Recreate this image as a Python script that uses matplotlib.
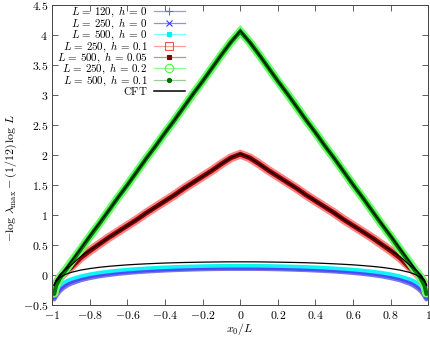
import matplotlib
matplotlib.use("Agg")
import matplotlib.pyplot as plt
from matplotlib.lines import Line2D
from matplotlib import ticker

plt.rcParams['mathtext.fontset'] = 'cm'
plt.rcParams['font.family'] = ['cmr10', 'DejaVu Serif']
plt.rcParams['axes.unicode_minus'] = True

# x0/L grid of read-off points
x = [-0.99, -0.98, -0.96, -0.94, -0.92, -0.90, -0.85, -0.80, -0.75, -0.70, -0.65, -0.60,
     -0.55, -0.50, -0.45, -0.40, -0.35, -0.30, -0.25, -0.20, -0.15, -0.10, -0.05, 0.00,
     0.05, 0.10, 0.15, 0.20, 0.25, 0.30, 0.35, 0.40, 0.45, 0.50, 0.55, 0.60, 0.65, 0.70,
     0.75, 0.80, 0.85, 0.90, 0.92, 0.94, 0.96, 0.98, 0.99]

# h = 0 data
y_L120_h0 = [-0.410, -0.355, -0.272, -0.218, -0.177, -0.146, -0.091, -0.053, -0.024, -0.002, 0.017, 0.032,
             0.045, 0.056, 0.065, 0.073, 0.080, 0.085, 0.090, 0.094, 0.097, 0.099, 0.100, 0.100,
             0.100, 0.099, 0.097, 0.094, 0.090, 0.085, 0.080, 0.073, 0.065, 0.056, 0.045, 0.032, 0.017, -0.002,
             -0.024, -0.053, -0.091, -0.146, -0.177, -0.218, -0.272, -0.355, -0.410]
y_L250_h0 = [-0.380, -0.312, -0.232, -0.180, -0.141, -0.112, -0.060, -0.024, 0.003, 0.024, 0.041, 0.056,
             0.068, 0.078, 0.087, 0.095, 0.101, 0.106, 0.110, 0.114, 0.117, 0.119, 0.120, 0.120,
             0.120, 0.119, 0.117, 0.114, 0.110, 0.106, 0.101, 0.095, 0.087, 0.078, 0.068, 0.056, 0.041, 0.024,
             0.003, -0.024, -0.060, -0.112, -0.141, -0.180, -0.232, -0.312, -0.380]
y_L500_h0 = [-0.348, -0.265, -0.182, -0.134, -0.099, -0.073, -0.025, 0.009, 0.035, 0.055, 0.072, 0.086,
             0.098, 0.108, 0.117, 0.125, 0.131, 0.136, 0.140, 0.144, 0.147, 0.149, 0.150, 0.150,
             0.150, 0.149, 0.147, 0.144, 0.140, 0.136, 0.131, 0.125, 0.117, 0.108, 0.098, 0.086, 0.072, 0.055,
             0.035, 0.009, -0.025, -0.073, -0.099, -0.134, -0.182, -0.265, -0.348]
# hL = 25
y_L250_h01 = [-0.30, -0.16, -0.05, 0.02, 0.08, 0.13, 0.28, 0.40, 0.51, 0.62, 0.72, 0.82,
              0.92, 1.03, 1.13, 1.23, 1.33, 1.44, 1.54, 1.64, 1.74, 1.85, 1.95, 2.01,
              1.95, 1.85, 1.74, 1.64, 1.54, 1.44, 1.33, 1.23, 1.13, 1.03, 0.92, 0.82, 0.72, 0.62,
              0.51, 0.40, 0.28, 0.13, 0.08, 0.02, -0.05, -0.16, -0.30]
y_L500_h005 = [-0.31, -0.17, -0.06, 0.01, 0.07, 0.12, 0.28, 0.40, 0.51, 0.62, 0.72, 0.82,
               0.92, 1.03, 1.13, 1.23, 1.33, 1.44, 1.54, 1.64, 1.74, 1.85, 1.95, 2.01,
               1.95, 1.85, 1.74, 1.64, 1.54, 1.44, 1.33, 1.23, 1.13, 1.03, 0.92, 0.82, 0.72, 0.62,
               0.51, 0.40, 0.28, 0.12, 0.07, 0.01, -0.06, -0.17, -0.31]
# hL = 50
y_L250_h02 = [-0.31, -0.17, -0.05, 0.04, 0.12, 0.21, 0.42, 0.64, 0.85, 1.07, 1.29, 1.50,
              1.72, 1.94, 2.15, 2.37, 2.58, 2.80, 3.02, 3.23, 3.45, 3.67, 3.88, 4.06,
              3.88, 3.67, 3.45, 3.23, 3.02, 2.80, 2.58, 2.37, 2.15, 1.94, 1.72, 1.50, 1.29, 1.07,
              0.85, 0.64, 0.42, 0.21, 0.12, 0.04, -0.05, -0.17, -0.31]
y_L500_h01 = [-0.32, -0.18, -0.06, 0.03, 0.11, 0.20, 0.42, 0.64, 0.85, 1.07, 1.29, 1.50,
              1.72, 1.94, 2.15, 2.37, 2.58, 2.80, 3.02, 3.23, 3.45, 3.67, 3.88, 4.06,
              3.88, 3.67, 3.45, 3.23, 3.02, 2.80, 2.58, 2.37, 2.15, 1.94, 1.72, 1.50, 1.29, 1.07,
              0.85, 0.64, 0.42, 0.20, 0.11, 0.03, -0.06, -0.18, -0.32]
# CFT predictions
cft_h0 = [-0.180, -0.114, -0.048, -0.010, 0.018, 0.039, 0.077, 0.103, 0.124, 0.140, 0.153, 0.165,
          0.174, 0.182, 0.189, 0.195, 0.200, 0.204, 0.207, 0.210, 0.212, 0.214, 0.215, 0.215,
          0.215, 0.214, 0.212, 0.210, 0.207, 0.204, 0.200, 0.195, 0.189, 0.182, 0.174, 0.165, 0.153, 0.140,
          0.124, 0.103, 0.077, 0.039, 0.018, -0.010, -0.048, -0.114, -0.180]
cft_hL25 = [-0.17, -0.09, 0.00, 0.06, 0.11, 0.16, 0.30, 0.41, 0.51, 0.62, 0.72, 0.82,
            0.92, 1.03, 1.13, 1.23, 1.33, 1.44, 1.54, 1.64, 1.74, 1.85, 1.95, 2.02,
            1.95, 1.85, 1.74, 1.64, 1.54, 1.44, 1.33, 1.23, 1.13, 1.03, 0.92, 0.82, 0.72, 0.62,
            0.51, 0.41, 0.30, 0.16, 0.11, 0.06, 0.00, -0.09, -0.17]
cft_hL50 = [-0.17, -0.10, -0.02, 0.06, 0.14, 0.22, 0.43, 0.65, 0.86, 1.07, 1.29, 1.50,
            1.72, 1.94, 2.15, 2.37, 2.58, 2.80, 3.02, 3.23, 3.45, 3.67, 3.88, 4.07,
            3.88, 3.67, 3.45, 3.23, 3.02, 2.80, 2.58, 2.37, 2.15, 1.94, 1.72, 1.50, 1.29, 1.07,
            0.86, 0.65, 0.43, 0.22, 0.14, 0.06, -0.02, -0.10, -0.17]

labels = [r'$L\,=\,120,\ h\,=\,0$', r'$L\,=\,250,\ h\,=\,0$', r'$L\,=\,500,\ h\,=\,0$',
          r'$L\,=\,250,\ h\,=\,0.1$', r'$L\,=\,500,\ h\,=\,0.05$', r'$L\,=\,250,\ h\,=\,0.2$',
          r'$L\,=\,500,\ h\,=\,0.1$', r'$\mathrm{CFT}$']
xticks = [-1, -0.8, -0.6, -0.4, -0.2, 0, 0.2, 0.4, 0.6, 0.8, 1]
yticks = [-0.5, 0, 0.5, 1, 1.5, 2, 2.5, 3, 3.5, 4, 4.5]

W, H = 431, 339
fig = plt.figure(figsize=(W / 100, H / 100), dpi=100)
ax = fig.add_axes([52.3 / W, 1 - 304.7 / H, 376 / W, 299.7 / H])

# series: (data, band colour, band width, line colour, marker, marker colour, marker size, filled)
series = [
    (y_L120_h0, '#7878e0', 3.2, '#9a9ae6', '+', '#6868d8', 6, True),
    (y_L250_h0, '#4a4aff', 3.2, '#8c8cff', 'x', '#3c3cff', 5, True),
    (y_L500_h0, '#10f4f4', 2.6, '#80ffff', 's', '#00f0f0', 2.6, True),
    (y_L250_h01, '#ff8585', 6.4, '#ff9c9c', 's', '#ff5050', 6, False),
    (y_L500_h005, '#8a0000', 3.4, '#c49090', 's', '#800000', 3, True),
    (y_L250_h02, '#6cff6c', 6.0, '#90ff90', 'o', '#40ff40', 6, False),
    (y_L500_h01, '#007800', 3.0, '#98cc98', 'o', '#007000', 3, True),
]
handles = []
for (yv, bc, bw, lc, mk, mc, ms, filled), lab in zip(series, labels):
    ax.plot(x, yv, color=bc, lw=bw, solid_capstyle='round', solid_joinstyle='miter')
    handles.append(Line2D([], [], color=lc, lw=0.9, marker=mk, ms=ms,
                          markeredgecolor=mc, markeredgewidth=0.8,
                          markerfacecolor=(mc if filled else 'none')))
for cy in (cft_h0, cft_hL25, cft_hL50):
    ax.plot(x, cy, color='black', lw=0.9)
handles.append(Line2D([], [], color='black', lw=1.1))

ax.set_xlim(-1, 1)
ax.set_ylim(-0.5, 4.5)
ax.set_xticks(xticks)
ax.set_yticks(yticks)
fmt = ticker.FuncFormatter(lambda v, p: r'$%s$' % ('%g' % v))
ax.xaxis.set_major_formatter(fmt)
ax.yaxis.set_major_formatter(fmt)
ax.tick_params(direction='in', length=4, width=0.6, top=True, right=True,
               labelsize=8.5, color='#444444', pad=3)
for s in ax.spines.values():
    s.set_color('#444444')
    s.set_linewidth(0.7)

ax.set_xlabel(r'$x_0/L$', fontsize=8.6, va='center')
ax.set_ylabel(r'$-\log\,\lambda_{\max}-(1/12)\,\log\,L$', fontsize=8.6, va='center')
ax.xaxis.set_label_coords((240 - 52.3) / 376, (304.7 - 329) / 299.7)
ax.yaxis.set_label_coords((11 - 52.3) / 376, (304.7 - 178) / 299.7)

fig.legend(handles, labels, loc='upper right', bbox_to_anchor=(184.7 / W, 1 - 5 / H),
           frameon=False, markerfirst=False, fontsize=7.9, borderpad=0, borderaxespad=0,
           handlelength=2.8, handletextpad=0.6, labelspacing=-0.27)

fig.savefig('out.png', dpi=100)
